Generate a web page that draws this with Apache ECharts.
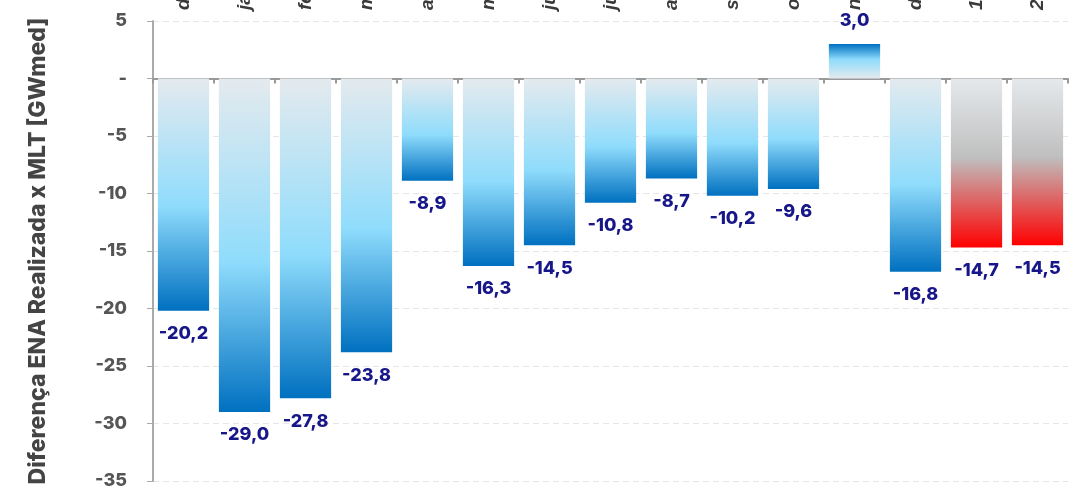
<!DOCTYPE html>
<html>
<head>
<meta charset="utf-8">
<script src="https://cdn.jsdelivr.net/npm/echarts@6/dist/echarts.min.js"></script>
<style>
  html, body { margin: 0; padding: 0; background: #fff; }
  #chart { width: 1076px; height: 491px; }
</style>
</head>
<body>
<div id="chart"></div>
<script>
const categories = ['dez/22', 'jan/23', 'fev/23', 'mar/23', 'abr/23', 'mai/23', 'jun/23', 'jul/23',
  'ago/23', 'set/23', 'out/23', 'nov/23', 'dez/23', '1ª sem', '2ª sem']
const values = [-20.2, -29.0, -27.8, -23.8, -8.9, -16.3, -14.5, -10.8, -8.7, -10.2, -9.6, 3.0, -16.8, -14.7, -14.5]
// barras de previsão (gradiente vermelho)
const forecast = [false, false, false, false, false, false, false, false, false, false, false, false, false, true, true]
const yTicks = { min: -35, max: 5, interval: 5 }

const blueStops = [
  { offset: 0, color: '#e4eaee' },
  { offset: 0.55, color: '#8fdcfc' },
  { offset: 1, color: '#0070c0' }
]
const redStops = [
  { offset: 0, color: '#e5e9ec' },
  { offset: 0.47, color: '#bfbfbf' },
  { offset: 1, color: '#ff0000' }
]

const labelColor = '#17178a'

const data = values.map((v, i) => {
  const stops = forecast[i] ? redStops : blueStops
  const up = v >= 0
  return {
    value: v,
    itemStyle: {
      color: new echarts.graphic.LinearGradient(0, up ? 1 : 0, 0, up ? 0 : 1, stops)
    },
    label: { position: up ? 'top' : 'bottom' }
  }
})

const chart = echarts.init(document.getElementById('chart'))

chart.setOption({
  animation: false,
  grid: { left: 153, right: 8, top: 21, bottom: 10, outerBoundsMode: 'none' },
  xAxis: [
    {
      type: 'category',
      data: categories,
      position: 'bottom',
      axisLine: { onZero: true, lineStyle: { color: '#999', width: 2 } },
      axisTick: { show: true, length: 5, lineStyle: { color: '#999', width: 2 } },
      axisLabel: { show: false },
      splitLine: { show: false }
    },
    {
      type: 'category',
      data: categories,
      position: 'top',
      axisLine: { show: false },
      axisTick: { show: false },
      axisLabel: {
        rotate: -90,
        margin: 11,
        color: '#3a3a3a',
        fontFamily: 'Liberation Sans',
        fontStyle: 'italic',
        fontWeight: 'bold',
        fontSize: 19
      }
    }
  ],
  yAxis: {
    type: 'value',
    min: yTicks.min,
    max: yTicks.max,
    interval: yTicks.interval,
    name: 'Diferença ENA Realizada x MLT [GWmed]',
    nameLocation: 'middle',
    nameGap: 103,
    nameTextStyle: {
      color: '#444',
      fontFamily: 'Inter',
      fontWeight: 800,
      fontSize: 23
    },
    axisLine: { show: true, lineStyle: { color: '#aaa', width: 2 } },
    axisTick: { show: true, length: 6, lineStyle: { color: '#aaa' } },
    axisLabel: {
      margin: 26,
      color: '#555',
      fontFamily: 'Inter',
      fontWeight: 800,
      fontSize: 18,
      formatter: v => (v === 0 ? '-' : String(v))
    },
    splitLine: { show: true, lineStyle: { color: '#e6e6e6', type: [6, 4] } }
  },
  series: [
    {
      type: 'bar',
      data: data,
      xAxisIndex: 0,
      barCategoryGap: '16%',
      label: {
        show: true,
        distance: 14,
        color: labelColor,
        fontFamily: 'Inter',
        fontWeight: 800,
        fontSize: 18,
        formatter: p => p.value.toFixed(1).replace('.', ',')
      }
    }
  ]
})
</script>
</body>
</html>
